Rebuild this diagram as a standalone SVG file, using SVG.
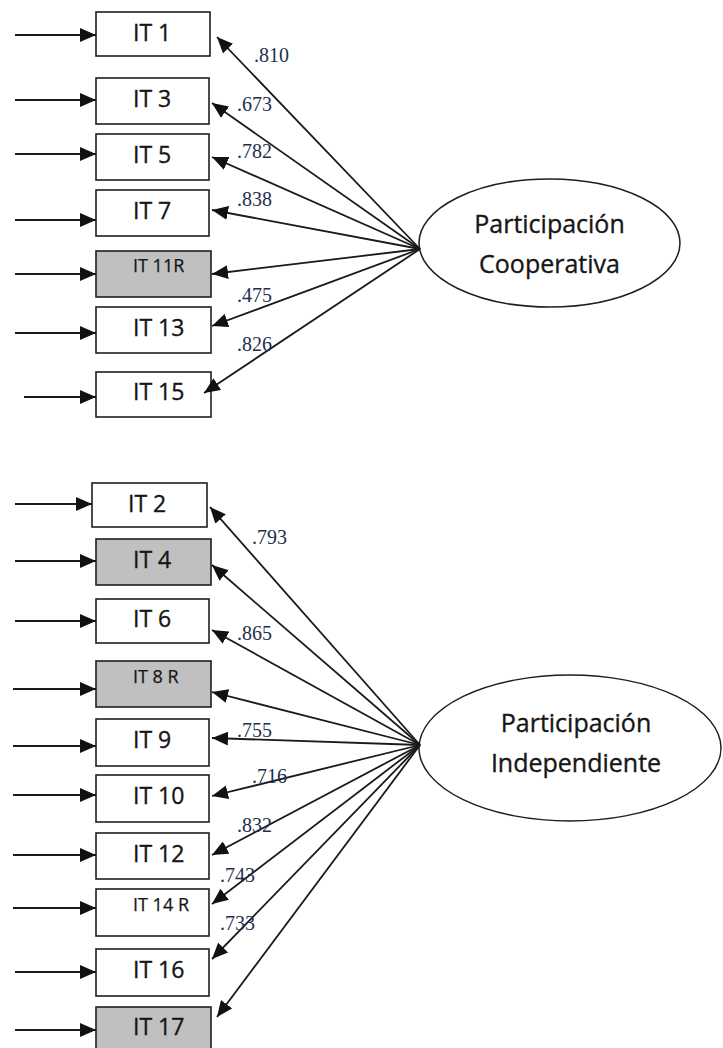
<svg xmlns="http://www.w3.org/2000/svg" width="723" height="1048" viewBox="0 0 723 1048">
  <style>
    .box { stroke: #1e1e1e; stroke-width: 1.6; fill: #ffffff; }
    .box.shaded { fill: #c0c0c0; }
    .lbl { font-family: "Open Sans", "Noto Sans", sans-serif; font-size: 23px; fill: #161616; stroke: #161616; stroke-width: 0.35; }
    .lbl.small { font-size: 18px; stroke-width: 0.25; }
    .lat { stroke: #1e1e1e; stroke-width: 1.5; fill: #ffffff; }
    .latlbl { font-family: "Open Sans", "Noto Sans", sans-serif; font-size: 25px; fill: #161616; stroke: #161616; stroke-width: 0.35; text-anchor: middle; }
    .edge { stroke: #1a1a1a; stroke-width: 1.8; fill: none; marker-end: url(#head); }
    .w { font-family: "Liberation Serif", "Times New Roman", serif; font-size: 20px; fill: #1f2f4f; }
  </style>
  <defs>
    <marker id="head" markerUnits="userSpaceOnUse" markerWidth="16" markerHeight="14" refX="16" refY="7" orient="auto">
      <path d="M0,0 L16,7 L0,14 z" fill="#111111"/>
    </marker>
  </defs>

  <!-- Indicators: Participación Cooperativa -->
  <g id="it1"><rect class="box" x="96" y="12" width="114" height="44"/><text class="lbl" x="133" y="41">IT 1</text></g>
  <g id="it3"><rect class="box" x="96" y="78" width="113" height="46"/><text class="lbl" x="133" y="107">IT 3</text></g>
  <g id="it5"><rect class="box" x="96" y="134" width="113" height="46"/><text class="lbl" x="133" y="163">IT 5</text></g>
  <g id="it7"><rect class="box" x="96" y="190" width="113" height="46"/><text class="lbl" x="133" y="219">IT 7</text></g>
  <g id="it11r"><rect class="box shaded" x="96" y="251" width="115" height="46"/><text class="lbl small" x="133" y="272">IT 11R</text></g>
  <g id="it13"><rect class="box" x="96" y="307" width="115" height="46"/><text class="lbl" x="133" y="336">IT 13</text></g>
  <g id="it15"><rect class="box" x="96" y="372" width="115" height="45"/><text class="lbl" x="133" y="400">IT 15</text></g>

  <g id="factor-cooperativa">
    <ellipse class="lat" cx="549.5" cy="243" rx="130.5" ry="64"/>
    <text class="latlbl" x="549.5" y="233">Participación</text>
    <text class="latlbl" x="549.5" y="273">Cooperativa</text>
  </g>

  <!-- Indicators: Participación Independiente -->
  <g id="it2"><rect class="box" x="92" y="483" width="115" height="44"/><text class="lbl" x="128" y="512">IT 2</text></g>
  <g id="it4"><rect class="box shaded" x="96" y="539" width="115" height="46"/><text class="lbl" x="133" y="568">IT 4</text></g>
  <g id="it6"><rect class="box" x="96" y="599" width="113" height="44"/><text class="lbl" x="133" y="627">IT 6</text></g>
  <g id="it8r"><rect class="box shaded" x="96" y="661" width="115" height="46"/><text class="lbl small" x="133" y="683">IT 8 R</text></g>
  <g id="it9"><rect class="box" x="96" y="719" width="113" height="47"/><text class="lbl" x="133" y="748">IT 9</text></g>
  <g id="it10"><rect class="box" x="96" y="775" width="113" height="47"/><text class="lbl" x="133" y="804">IT 10</text></g>
  <g id="it12"><rect class="box" x="96" y="833" width="113" height="46"/><text class="lbl" x="133" y="862">IT 12</text></g>
  <g id="it14r"><rect class="box" x="96" y="889" width="113" height="47"/><text class="lbl small" x="133" y="911">IT 14 R</text></g>
  <g id="it16"><rect class="box" x="96" y="949" width="113" height="47"/><text class="lbl" x="133" y="978">IT 16</text></g>
  <g id="it17"><rect class="box shaded" x="96" y="1007" width="115" height="48"/><text class="lbl" x="133" y="1035">IT 17</text></g>

  <g id="factor-independiente">
    <ellipse class="lat" cx="570" cy="748" rx="151" ry="73"/>
    <text class="latlbl" x="576" y="732">Participación</text>
    <text class="latlbl" x="576" y="772">Independiente</text>
  </g>

  <g id="connectors">
    <!-- error terms -->
    <line class="edge" x1="15" y1="35" x2="96" y2="35"/>
    <line class="edge" x1="15" y1="100" x2="96" y2="100"/>
    <line class="edge" x1="15" y1="154" x2="96" y2="154"/>
    <line class="edge" x1="15" y1="220" x2="96" y2="220"/>
    <line class="edge" x1="15" y1="274" x2="96" y2="274"/>
    <line class="edge" x1="15" y1="333" x2="96" y2="333"/>
    <line class="edge" x1="24" y1="397" x2="96" y2="397"/>

    <line class="edge" x1="15" y1="504" x2="92" y2="504"/>
    <line class="edge" x1="15" y1="561" x2="96" y2="561"/>
    <line class="edge" x1="15" y1="621" x2="96" y2="621"/>
    <line class="edge" x1="13" y1="689" x2="96" y2="689"/>
    <line class="edge" x1="13" y1="746" x2="96" y2="746"/>
    <line class="edge" x1="13" y1="795" x2="96" y2="795"/>
    <line class="edge" x1="13" y1="855" x2="96" y2="855"/>
    <line class="edge" x1="13" y1="908" x2="96" y2="908"/>
    <line class="edge" x1="15" y1="972" x2="96" y2="972"/>
    <line class="edge" x1="15" y1="1030" x2="96" y2="1030"/>

    <!-- loadings: cooperativa -->
    <line class="edge" x1="420" y1="249" x2="217" y2="37"/>
    <line class="edge" x1="420" y1="249" x2="212" y2="103"/>
    <line class="edge" x1="420" y1="249" x2="212" y2="157"/>
    <line class="edge" x1="420" y1="249" x2="212" y2="210"/>
    <line class="edge" x1="420" y1="249" x2="212" y2="274"/>
    <line class="edge" x1="420" y1="249" x2="212" y2="326"/>
    <line class="edge" x1="420" y1="249" x2="204" y2="393"/>

    <!-- loadings: independiente -->
    <line class="edge" x1="420" y1="745" x2="210" y2="507"/>
    <line class="edge" x1="420" y1="745" x2="212" y2="565"/>
    <line class="edge" x1="420" y1="745" x2="212" y2="630"/>
    <line class="edge" x1="420" y1="745" x2="212" y2="692"/>
    <line class="edge" x1="420" y1="745" x2="212" y2="738"/>
    <line class="edge" x1="420" y1="745" x2="212" y2="796"/>
    <line class="edge" x1="420" y1="745" x2="212" y2="855"/>
    <line class="edge" x1="420" y1="745" x2="212" y2="904"/>
    <line class="edge" x1="420" y1="745" x2="212" y2="959"/>
    <line class="edge" x1="420" y1="745" x2="217" y2="1017"/>

    <!-- loading values -->
    <text class="w" x="254" y="62">.810</text>
    <text class="w" x="237" y="111">.673</text>
    <text class="w" x="237" y="158">.782</text>
    <text class="w" x="237" y="206">.838</text>
    <text class="w" x="237" y="302">.475</text>
    <text class="w" x="237" y="351">.826</text>

    <text class="w" x="252" y="544">.793</text>
    <text class="w" x="237" y="640">.865</text>
    <text class="w" x="237" y="737">.755</text>
    <text class="w" x="252" y="783">.716</text>
    <text class="w" x="237" y="832">.832</text>
    <text class="w" x="220" y="882">.743</text>
    <text class="w" x="220" y="930">.733</text>
  </g>
</svg>
